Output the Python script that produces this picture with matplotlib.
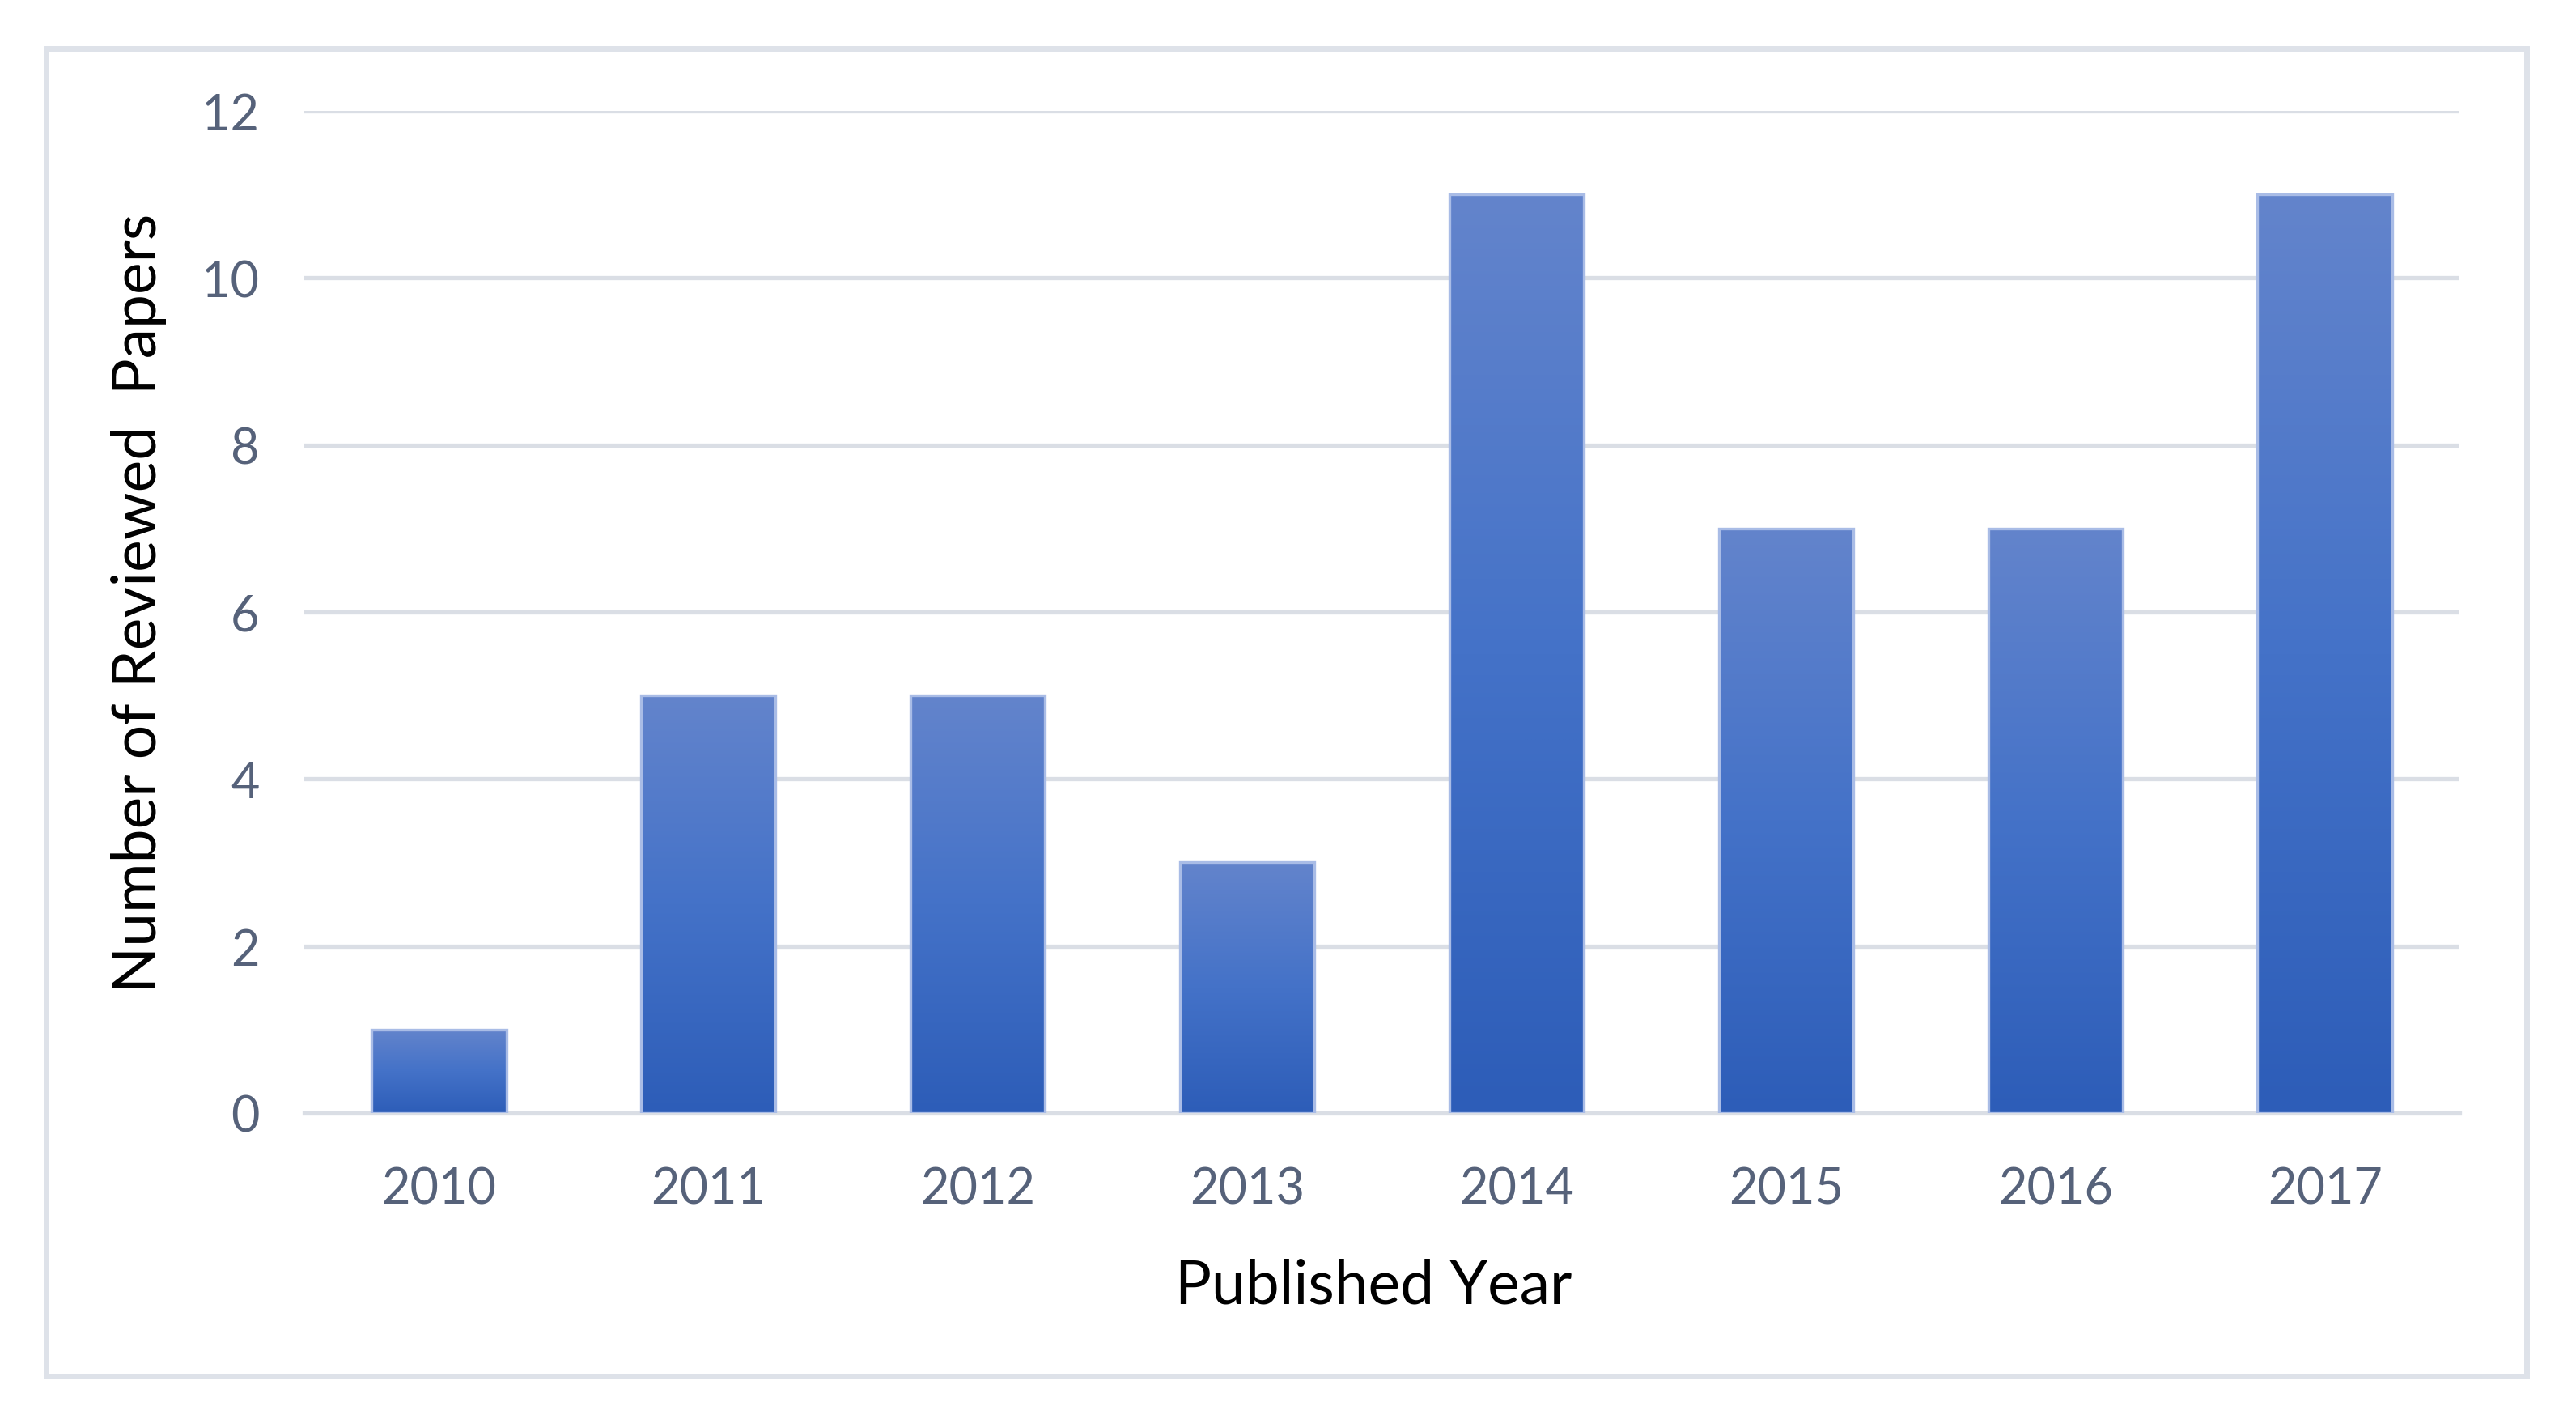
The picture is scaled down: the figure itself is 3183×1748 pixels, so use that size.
import matplotlib
matplotlib.use("Agg")
import matplotlib.pyplot as plt
import numpy as np
from matplotlib.colors import LinearSegmentedColormap
from matplotlib.patches import Rectangle

years = ["2010", "2011", "2012", "2013", "2014", "2015", "2016", "2017"]
papers = [1, 5, 5, 3, 11, 7, 7, 11]
yticks = [0, 2, 4, 6, 8, 10, 12]

plt.rcParams['font.family'] = ['Lato', 'DejaVu Sans']

fig = plt.figure(figsize=(15.915, 8.745), dpi=200)
ax = fig.add_axes([0.1181, 0.2133, 0.8367, 0.7078])

x = np.arange(len(years))
bars = ax.bar(x, papers, width=0.5, facecolor='none', edgecolor='#A9BCE6', linewidth=1.2, zorder=3)

cmap = LinearSegmentedColormap.from_list('g', ['#2D5DB8', '#4472C8', '#6384CC'])
grad = np.linspace(0, 1, 256).reshape(-1, 1)
for b in bars:
    x0, y0 = b.get_x(), b.get_y()
    w, h = b.get_width(), b.get_height()
    im = ax.imshow(grad, cmap=cmap, aspect='auto', origin='lower',
                   extent=(x0, x0 + w, y0, y0 + h), zorder=2, interpolation='bilinear')
    im.set_clip_path(b)

ax.set_xlim(-0.5, len(years) - 0.5)
ax.set_ylim(0, 12)
ax.set_yticks(yticks)
ax.set_xticks(x)
ax.set_xticklabels(years)

ax.grid(axis='y', color='#DADEE5', linewidth=1.9, zorder=0)
ax.set_axisbelow(True)
for s in ['top', 'right', 'left']:
    ax.spines[s].set_visible(False)
ax.spines['bottom'].set_color('#DADEE5')
ax.spines['bottom'].set_linewidth(1.9)
ax.spines['bottom'].set_zorder(1)

ax.tick_params(axis='both', length=0, labelsize=22, labelcolor='#56627A')
ax.tick_params(axis='x', pad=23.5)
ax.tick_params(axis='y', pad=20)

ax.set_xlabel('Published Year', fontsize=27, color='black')
ax.set_ylabel('Number of Reviewed  Papers', fontsize=27, color='black')
ax.xaxis.set_label_coords(0.496, -0.172)
ax.yaxis.set_label_coords(-0.0766, 0.51)
ax.xaxis.label.set_va('center')
ax.yaxis.label.set_va('center')

fig.patches.append(Rectangle((57 / 3183, 1 - 1701 / 1749), (3122 - 57) / 3183, (1701 - 61) / 1749,
                             transform=fig.transFigure, fill=False, edgecolor='#DEE2E9', linewidth=2.5))

fig.savefig('out.png', dpi=200, facecolor='white')
